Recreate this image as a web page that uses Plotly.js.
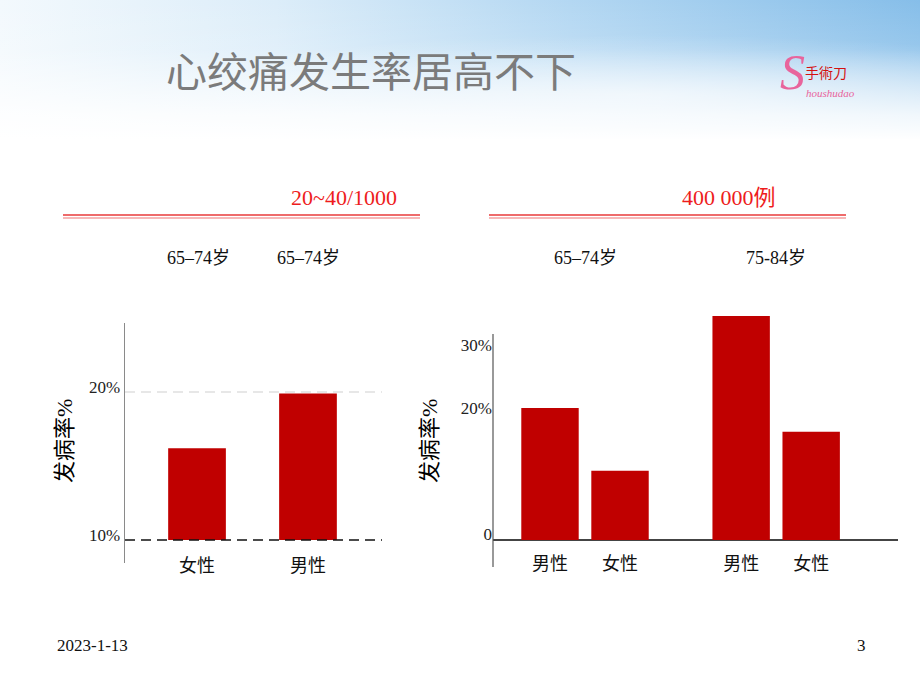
<!DOCTYPE html>
<html>
<head>
<meta charset="utf-8">
<script src="https://cdn.plot.ly/plotly-3.0.1.min.js"></script>
<style>
  html, body { margin: 0; padding: 0; }
  body {
    width: 920px; height: 690px; overflow: hidden;
    background:
      linear-gradient(180deg, rgba(255,255,255,0) 0px, rgba(255,255,255,0.15) 50px, rgba(255,255,255,0.85) 115px, #ffffff 140px),
      radial-gradient(ellipse 520px 60px at 640px 95px, rgba(255,255,255,0.55), rgba(255,255,255,0) 100%),
      linear-gradient(90deg, #f3f9fd 0%, #dcedf9 30%, #b3d7f2 62%, #86bee9 100%);
  }
  #chart { width: 920px; height: 690px; }
</style>
</head>
<body>
<div id="chart"></div>
<script>
// ---------- data ----------
var slideTitle = '心绞痛发生率居高不下';
var headerLeft = '20~40/1000';
var headerRight = '400 000例';

// left panel (baseline 10%)
var sexLeft = ['女性', '男性'];
var ageLeft = ['65–74岁', '65–74岁'];
var rateLeft = [16.2, 19.9];
var baseLeft = 10;
var tickValsLeft = [10, 20];
var tickTextLeft = ['10%', '20%'];

// right panel
var ageRight = ['65–74岁', '75-84岁'];
var sexRight = ['男性', '女性'];
var rate65to74 = [21.0, 11.0];
var rate75to84 = [35.6, 17.2];
var tickValsRight = [0, 20, 30];
var tickTextRight = ['0', '20%', '30%'];

var yTitle = '发病率<span style="font-family:\'Liberation Serif\'">%</span>';
var footerDate = '2023-1-13';
var pageNo = '3';

// ---------- build ----------
var barColor = '#c00000';
var serif = "'Liberation Serif', 'Times New Roman', 'Noto Sans CJK SC', serif";
var sans = "'Noto Sans CJK SC', 'Noto Sans', sans-serif";
var groupStep = 2.73;
var rightGroups = [rate65to74, rate75to84];
var xRight = [], yRight = [], tRight = [];
rightGroups.forEach(function (vals, g) {
  vals.forEach(function (v, s) {
    xRight.push(g * groupStep + s);
    yRight.push(v);
    tRight.push(sexRight[s]);
  });
});

var traces = [
  {
    type: 'bar', x: sexLeft, y: rateLeft.map(function (v) { return v - baseLeft; }),
    base: baseLeft, width: 0.52, marker: { color: barColor, line: { width: 0 } },
    xaxis: 'x', yaxis: 'y', hoverinfo: 'skip', showlegend: false
  },
  {
    type: 'bar', x: xRight, y: yRight, width: 0.82,
    marker: { color: barColor, line: { width: 0 } },
    xaxis: 'x2', yaxis: 'y2', hoverinfo: 'skip', showlegend: false
  }
];

var annotations = [];
function ann(o) { annotations.push(Object.assign({ showarrow: false }, o)); }

ann({ text: headerLeft, xref: 'paper', yref: 'paper', x: 399 / 920, y: 1 - 197 / 690,
      xanchor: 'right', yanchor: 'middle', font: { family: serif, size: 22, color: '#ee1c1c' } });
ann({ text: headerRight, xref: 'paper', yref: 'paper', x: 778 / 920, y: 1 - 197 / 690,
      xanchor: 'right', yanchor: 'middle', font: { family: serif, size: 22, color: '#ee1c1c' } });

ageLeft.forEach(function (a, i) {
  ann({ text: a, xref: 'x', yref: 'paper', x: sexLeft[i], y: 1 - 258 / 690, xshift: 1,
        xanchor: 'center', yanchor: 'middle', font: { family: serif, size: 18, color: '#111' } });
});
ageRight.forEach(function (a, g) {
  ann({ text: a, xref: 'x2', yref: 'paper', x: g * groupStep + 0.5, y: 1 - 258 / 690,
        xanchor: 'center', yanchor: 'middle', font: { family: serif, size: 18, color: '#111' } });
});

ann({ text: yTitle, xref: 'paper', yref: 'paper', x: 62 / 920, y: 1 - 441 / 690, textangle: -90,
      xanchor: 'center', yanchor: 'middle', font: { family: sans, size: 22, color: '#000' } });
ann({ text: yTitle, xref: 'paper', yref: 'paper', x: 427 / 920, y: 1 - 441 / 690, textangle: -90,
      xanchor: 'center', yanchor: 'middle', font: { family: sans, size: 22, color: '#000' } });

ann({ text: footerDate, xref: 'paper', yref: 'paper', x: 55 / 920, y: 1 - 645 / 690,
      xanchor: 'left', yanchor: 'middle', font: { family: serif, size: 17, color: '#111' } });
ann({ text: pageNo, xref: 'paper', yref: 'paper', x: 861 / 920, y: 1 - 645 / 690,
      xanchor: 'center', yanchor: 'middle', font: { family: serif, size: 17, color: '#111' } });

// logo approximation
ann({ text: '<i>S</i>', xref: 'paper', yref: 'paper', x: 792 / 920, y: 1 - 72 / 690,
      xanchor: 'center', yanchor: 'middle', font: { family: serif, size: 50, color: '#e8649c' } });
ann({ text: '手術刀', xref: 'paper', yref: 'paper', x: 826 / 920, y: 1 - 72 / 690,
      xanchor: 'center', yanchor: 'middle', font: { family: "'Noto Sans CJK TC', sans-serif", size: 14, color: '#d41010' } });
ann({ text: '<i>houshudao</i>', xref: 'paper', yref: 'paper', x: 830 / 920, y: 1 - 93 / 690,
      xanchor: 'center', yanchor: 'middle', font: { family: serif, size: 11, color: '#e8649c' } });

var shapes = [
  // double red rules under headers
  { type: 'line', xref: 'paper', yref: 'paper', x0: 63 / 920, x1: 420 / 920, y0: 1 - 215 / 690, y1: 1 - 215 / 690,
    line: { color: '#e83a3a', width: 1.5 } },
  { type: 'line', xref: 'paper', yref: 'paper', x0: 63 / 920, x1: 420 / 920, y0: 1 - 218 / 690, y1: 1 - 218 / 690,
    line: { color: '#f4a0a0', width: 1.5 } },
  { type: 'line', xref: 'paper', yref: 'paper', x0: 489 / 920, x1: 846 / 920, y0: 1 - 215 / 690, y1: 1 - 215 / 690,
    line: { color: '#e83a3a', width: 1.5 } },
  { type: 'line', xref: 'paper', yref: 'paper', x0: 489 / 920, x1: 846 / 920, y0: 1 - 218 / 690, y1: 1 - 218 / 690,
    line: { color: '#f4a0a0', width: 1.5 } },
  // reference lines in left panel
  { type: 'line', xref: 'x domain', yref: 'y', x0: 0, x1: 1, y0: tickValsLeft[1], y1: tickValsLeft[1],
    line: { color: '#cfcfcf', width: 1.2, dash: '10px,6px' }, layer: 'below' },
  { type: 'line', xref: 'x domain', yref: 'y', x0: 0, x1: 1, y0: tickValsLeft[0], y1: tickValsLeft[0],
    line: { color: '#111', width: 1.5, dash: '10px,6px' }, layer: 'above' },
  // right panel vertical axis line (shorter than the tallest bar)
  { type: 'line', xref: 'x2 domain', yref: 'y2', x0: 0, x1: 0, y0: -4.29, y1: 32.75,
    line: { color: '#555', width: 1.2 } }
];

var layout = {
  width: 920, height: 690, autosize: false,
  margin: { l: 0, r: 0, t: 0, b: 0, pad: 0 },
  paper_bgcolor: 'rgba(0,0,0,0)', plot_bgcolor: 'rgba(0,0,0,0)',
  showlegend: false,
  title: { text: slideTitle, x: 166 / 920, xanchor: 'left', xref: 'paper',
           y: 1 - 73 / 690, yanchor: 'middle', yref: 'paper',
           font: { family: sans, size: 41, color: '#7b7b7b' } },
  xaxis: {
    domain: [125 / 920, 382 / 920], range: [-0.649, 1.667], type: 'category',
    anchor: 'free', position: 1 - 553 / 690,
    showline: false, showgrid: false, zeroline: false, ticks: '',
    tickfont: { family: sans, size: 18, color: '#111' }, fixedrange: true
  },
  yaxis: {
    domain: [1 - 563 / 690, 1 - 323 / 690], range: [8.446, 24.66],
    showline: true, linecolor: '#8a8a8a', linewidth: 1.5, showgrid: false, zeroline: false,
    ticks: '', tickvals: tickValsLeft, ticktext: tickTextLeft, ticklabelshift: -5,
    tickfont: { family: serif, size: 17, color: '#222' }, fixedrange: true
  },
  xaxis2: {
    domain: [493 / 920, 898 / 920], range: [-0.814, 4.97],
    anchor: 'free', position: 1 - 551 / 690,
    showline: false, showgrid: false, zeroline: false, ticks: '',
    tickvals: xRight, ticktext: tRight,
    tickfont: { family: sans, size: 18, color: '#111' }, fixedrange: true
  },
  yaxis2: {
    domain: [1 - 567 / 690, 1 - 300 / 690], range: [-4.29, 38.16], anchor: 'x2',
    showline: false, showgrid: false,
    zeroline: true, zerolinecolor: '#444', zerolinewidth: 1.2,
    ticks: '', tickvals: tickValsRight, ticktext: tickTextRight, ticklabelshift: -6,
    tickfont: { family: serif, size: 17, color: '#222' }, fixedrange: true
  },
  annotations: annotations,
  shapes: shapes
};

Plotly.newPlot('chart', traces, layout, { displayModeBar: false, staticPlot: true });
</script>
</body>
</html>
